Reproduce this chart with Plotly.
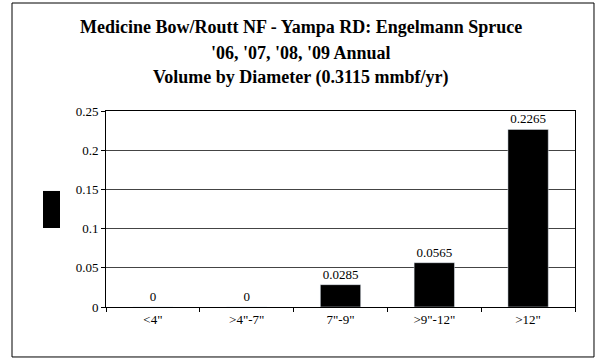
import plotly.graph_objects as go

# Volume par classe de diamètre
categories = ['<4"', '>4"-7"', '7"-9"', '>9"-12"', '>12"']
volumes = [0, 0, 0.0285, 0.0565, 0.2265]
etiquettes = ['0', '0', '0.0285', '0.0565', '0.2265']
y_ticks = [0, 0.05, 0.1, 0.15, 0.2, 0.25]
y_labels = ['0', '0.05', '0.1', '0.15', '0.2', '0.25']
titres = ["Medicine Bow/Routt NF - Yampa RD: Engelmann Spruce",
          "'06, '07, '08, '09 Annual",
          "Volume by Diameter (0.3115 mmbf/yr)"]

fig = go.Figure()

fig.add_trace(go.Bar(
    x=categories,
    y=volumes,
    text=etiquettes,
    textposition='outside',
    cliponaxis=False,
    textfont=dict(family='Liberation Serif', size=13, color='black'),
    marker_color='black',
    showlegend=False
))

fig.update_layout(
    width=595,
    height=360,
    margin=dict(l=106, r=20, t=111, b=53),
    paper_bgcolor='white',
    plot_bgcolor='white',
    bargap=0.57,
    font=dict(family='Liberation Serif', size=13, color='black'),
)

# titre sur trois lignes
for titre, ypos in zip(titres, [1.4286, 1.2959, 1.1684]):
    fig.add_annotation(text='<b>' + titre + '</b>', xref='paper', yref='paper',
                       x=0.415, y=ypos, xanchor='center', yanchor='middle',
                       showarrow=False,
                       font=dict(family='Liberation Serif', size=18, color='black'))

fig.update_xaxes(
    showline=True, linecolor='black', linewidth=1, mirror=True,
    ticks='outside', tickson='boundaries', ticklen=4, tickcolor='black',
    showgrid=False
)
fig.update_yaxes(
    range=[0, 0.25], tickvals=y_ticks, ticktext=y_labels,
    showline=True, linecolor='black', linewidth=1, mirror=True,
    ticks='outside', ticklen=4, tickcolor='black',
    showgrid=True, gridcolor='#444', gridwidth=1, zeroline=False
)

# cadre extérieur et marqueur de légende
fig.add_shape(type='rect', xref='paper', yref='paper',
              x0=-0.2004, x1=1.0405, y0=-0.255, y1=1.551,
              line=dict(color='black', width=1), layer='below')
fig.add_shape(type='rect', xref='paper', yref='paper',
              x0=-0.1343, x1=-0.0981, y0=0.403, y1=0.592,
              fillcolor='black', line=dict(width=0))

fig.write_html("out.html", config={'displayModeBar': False},
               post_script="document.body.style.margin='0';")
